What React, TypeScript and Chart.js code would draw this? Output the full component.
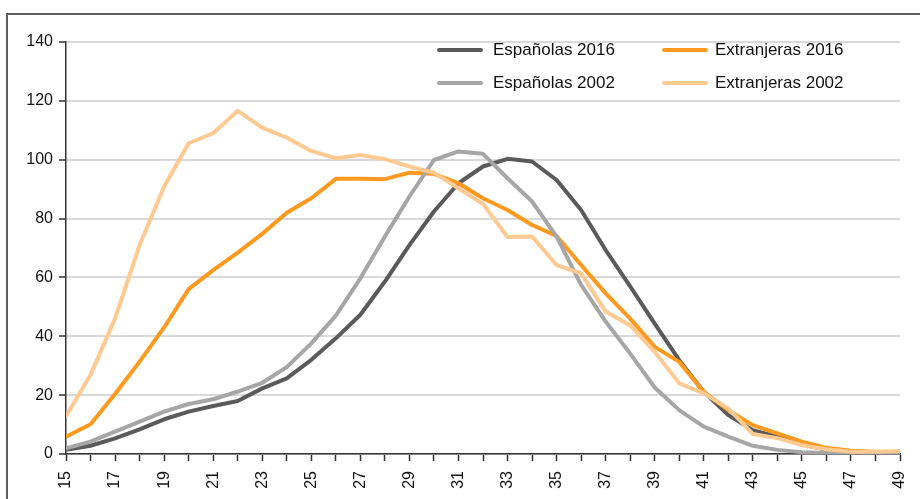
import React, { useEffect, useRef } from "react";
import { Chart, registerables } from "chart.js";

Chart.register(...registerables);

const ages = [15, 16, 17, 18, 19, 20, 21, 22, 23, 24, 25, 26, 27, 28, 29, 30, 31, 32, 33, 34, 35, 36, 37, 38, 39, 40, 41, 42, 43, 44, 45, 46, 47, 48, 49];

const espanolas2016 = [1.4, 2.8, 5.3, 8.4, 11.8, 14.4, 16.3, 18, 22.3, 25.7, 32, 39.3, 47.3, 58.6, 71, 82.4, 92, 97.7, 100.3, 99.4, 93.1, 82.9, 69.3, 57, 44.3, 31.9, 21.1, 13.2, 8.1, 5.9, 3.4, 1.4, 0.7, 0.5, 0.4];
const extranjeras2016 = [5.9, 10.1, 20.4, 31.4, 43, 56, 62.5, 68.4, 74.8, 82, 86.9, 93.5, 93.5, 93.4, 95.6, 95.2, 92, 86.9, 82.9, 77.8, 74.1, 64.2, 54.6, 46, 36.4, 31.3, 21.1, 14.9, 9.8, 7, 4.2, 2.1, 1.1, 0.8, 0.7];
const espanolas2002 = [1.9, 4.2, 7.6, 11, 14.4, 17, 18.6, 21.2, 24.2, 29.5, 37.6, 47, 59.7, 73.9, 87.5, 99.9, 102.8, 102, 93.7, 85.8, 73.9, 57.5, 45, 34.1, 22.6, 14.9, 9.3, 5.9, 2.8, 1.4, 0.6, 0.3, 0.1, 0.1, 0.1];
const extranjeras2002 = [12.9, 26.9, 46.1, 71, 90.9, 105.6, 109, 116.6, 110.9, 107.5, 103, 100.5, 101.6, 100.2, 97.7, 95.6, 90.3, 85, 73.7, 73.9, 64.2, 61.4, 48.4, 43.7, 34.7, 24, 20.6, 15.5, 6.8, 5.4, 3, 1.6, 0.8, 0.8, 1];

const seriesLabels = ["Españolas 2016", "Extranjeras 2016", "Españolas 2002", "Extranjeras 2002"];
const seriesValues = [espanolas2016, extranjeras2016, espanolas2002, extranjeras2002];
const seriesColors = ["#5a5a5a", "#ff9a1f", "#a6a6a6", "#ffc992"];

const yMin = 0;
const yMax = 140;
const yStep = 20;

const FONT = "'Liberation Sans', Arial, sans-serif";

export default function App() {
  const canvasRef = useRef<HTMLCanvasElement | null>(null);

  useEffect(() => {
    if (!canvasRef.current) return;
    const chart = new Chart(canvasRef.current, {
      type: "line",
      data: {
        datasets: seriesLabels.map((label, i) => ({
          label,
          data: ages.map((a, j) => ({ x: a, y: seriesValues[i][j] })),
          borderColor: seriesColors[i],
          backgroundColor: seriesColors[i],
          borderWidth: 4,
          pointRadius: 0,
          tension: 0,
          borderJoinStyle: "round",
          borderCapStyle: "round",
          order: seriesLabels.length - i,
        })),
      },
      options: {
        responsive: false,
        animation: false,
        maintainAspectRatio: false,
        layout: { padding: { left: 0, top: 42, right: 20, bottom: 0 } },
        plugins: {
          legend: { display: false },
          tooltip: { enabled: false },
        },
        scales: {
          x: {
            type: "linear",
            min: ages[0],
            max: ages[ages.length - 1],
            afterFit: (s: any) => {
              s.height = 45;
              s.paddingRight = 0;
            },
            ticks: {
              stepSize: 1,
              autoSkip: false,
              maxRotation: 90,
              minRotation: 90,
              padding: 10,
              color: "#111",
              font: { family: FONT, size: 16 },
              callback: (v: any) => (Number(v) % 2 === 1 ? String(v) : ""),
            },
            grid: {
              drawOnChartArea: false,
              drawTicks: true,
              tickLength: 7,
              tickColor: "#333",
              tickWidth: 1.5,
            },
            border: { display: true, color: "#333", width: 1.5 },
          },
          y: {
            min: yMin,
            max: yMax,
            afterFit: (s: any) => {
              s.width = 66;
            },
            ticks: {
              stepSize: yStep,
              padding: 6,
              color: "#111",
              font: { family: FONT, size: 16 },
            },
            grid: {
              color: "#d9d9d9",
              lineWidth: 2,
              drawTicks: true,
              tickLength: 7,
              tickColor: "#333",
              tickWidth: 1.5,
            },
            border: { display: true, color: "#333", width: 1.5 },
          },
        },
      },
    });
    return () => chart.destroy();
  }, []);

  const legendPos = [
    { lineLeft: 437, textLeft: 493, cy: 50 },
    { lineLeft: 662, textLeft: 715, cy: 50 },
    { lineLeft: 437, textLeft: 493, cy: 83 },
    { lineLeft: 662, textLeft: 715, cy: 83 },
  ];

  return (
    <div style={{ position: "fixed", left: 0, top: 0, width: 920, height: 499, overflow: "hidden", background: "#fff" }}>
      <div
        style={{
          position: "absolute",
          left: 6,
          top: 13,
          width: 1000,
          height: 1000,
          borderLeft: "2px solid #5f5f5f",
          borderTop: "2px solid #5f5f5f",
        }}
      />
      <canvas ref={canvasRef} width={920} height={499} style={{ position: "absolute", left: 0, top: 0, width: 920, height: 499 }} />
      {seriesLabels.map((label, i) => (
        <React.Fragment key={label}>
          <div
            style={{
              position: "absolute",
              left: legendPos[i].lineLeft,
              top: legendPos[i].cy - 2.25,
              width: 46,
              height: 4.5,
              borderRadius: 2.25,
              background: seriesColors[i],
            }}
          />
          <div
            style={{
              position: "absolute",
              left: legendPos[i].textLeft,
              top: legendPos[i].cy - 11,
              height: 22,
              lineHeight: "22px",
              fontFamily: FONT,
              fontSize: 17,
              color: "#111",
              whiteSpace: "nowrap",
            }}
          >
            {label}
          </div>
        </React.Fragment>
      ))}
    </div>
  );
}
